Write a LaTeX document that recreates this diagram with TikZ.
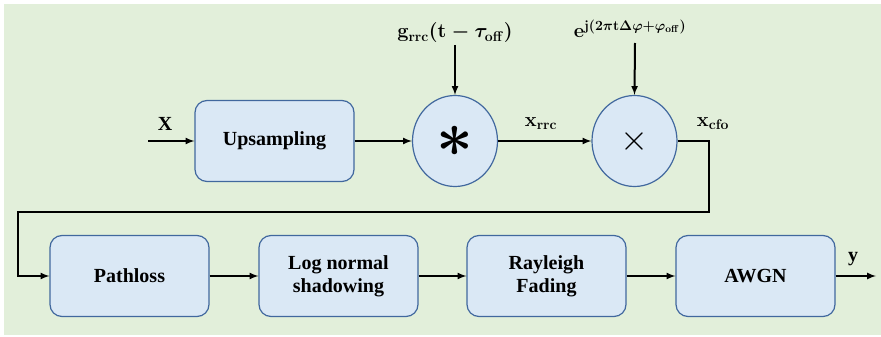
\RequirePackage{fix-cm}
\documentclass[tikz,border=0pt]{standalone}
\usepackage{amsmath,bm}
\usepackage{fontspec}
\setmainfont{Liberation Serif}
\usetikzlibrary{arrows,shapes.geometric}
\definecolor{bggreen}{HTML}{E2EFDA}
\definecolor{boxblue}{HTML}{DAE8F5}
\definecolor{edgeblue}{HTML}{41689E}
\newcommand{\fs}{\fontsize{20}{23}\selectfont\bfseries}
\newcommand{\off}{\mathbf{off}}

\begin{document}
\begin{tikzpicture}[x=1pt,y=-1pt,
   blk/.style={draw=edgeblue,fill=boxblue,line width=1.2pt,rounded corners=12pt,
               minimum width=159pt,minimum height=81pt,align=center,font=\fs},
   opr/.style={shape=ellipse,draw=edgeblue,fill=boxblue,line width=1.2pt,
               minimum width=85pt,minimum height=91pt,inner sep=0pt},
   lnk/.style={line width=2pt,-latex},
   lbl/.style={font=\fs\boldmath,inner sep=0pt}]
   \useasboundingbox (0,0) rectangle (881,337);
   \fill[bggreen] (4,4) rectangle (881,335);
   \node[blk] (up)   at (274.5,141) {Upsampling};
   \node[opr,font=\fontsize{64}{64}\selectfont] (conv) at (455,141) {$\bm{\ast}$};
   \node[opr,font=\fontsize{36}{36}\selectfont] (mix)  at (634.5,141) {$\times$};
   \node[blk] (path) at (129.5,276) {Pathloss};
   \node[blk] (logn) at (338.5,276) {Log normal\\shadowing};
   \node[blk] (ray)  at (546.5,276) {Rayleigh\\Fading};
   \node[blk] (awgn) at (755.5,276) {AWGN};
   \coordinate (in)   at (148,141);
   \coordinate (gtop) at (455,45);
   \coordinate (etop) at (635,43);
   \coordinate (fbr)  at (709,212);
   \coordinate (fbl)  at (18,212);
   \coordinate (out)  at (876,276);
   \node[lbl] (lx)    at (165,124) {X};
   \node[lbl] (lg)    at (455,33)  {$\mathbf{g}_{\mathbf{rrc}}(\mathbf{t}-\tau_{\off})$};
   \node[lbl] (le)    at (630,29)  {$\mathbf{e}^{\mathbf{j}(2\pi\mathbf{t}\Delta\varphi+\varphi_{\off})}$};
   \node[lbl] (lrrc)  at (541,124) {$\mathbf{x}_{\mathbf{rrc}}$};
   \node[lbl] (lcfo)  at (713,124) {$\mathbf{x}_{\mathbf{cfo}}$};
   \node[lbl] (ly)    at (853,259) {y};
   \draw[lnk] (in) -- (up.west);
   \draw[lnk] (up.east) -- (conv.west);
   \draw[lnk] (conv.east) -- (mix.west);
   \draw[lnk] (gtop) -- (conv.north);
   \draw[lnk] (etop) -- (mix.north);
   \draw[lnk] (mix.east) -| (fbr) -- (fbl) |- (path.west);
   \draw[lnk] (path.east) -- (logn.west);
   \draw[lnk] (logn.east) -- (ray.west);
   \draw[lnk] (ray.east) -- (awgn.west);
   \draw[lnk] (awgn.east) -- (out);
\end{tikzpicture}
\end{document}
